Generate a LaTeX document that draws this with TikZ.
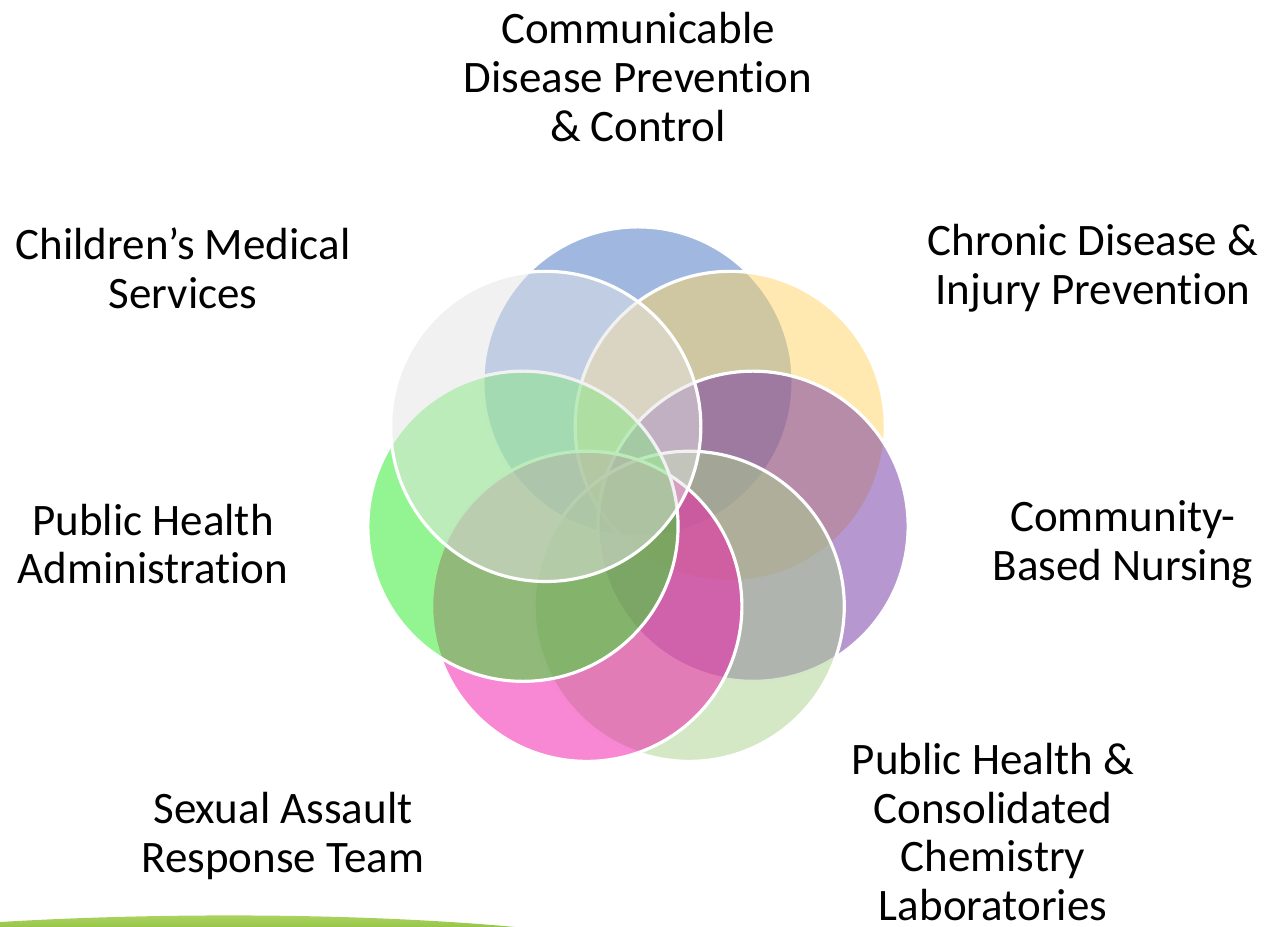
\documentclass[tikz,border=0pt]{standalone}
\usepackage{fontspec}
\setmainfont{Carlito}[Ligatures = {NoCommon, NoRequired, NoContextual}]
\definecolor{cdcblue}{RGB}{65,113,193}
\definecolor{cdipgold}{RGB}{255,212,100}
\definecolor{cbnpurple}{RGB}{112,48,160}
\definecolor{phlgreen}{RGB}{169,209,142}
\definecolor{sartpink}{RGB}{241,17,168}
\definecolor{phagreen}{RGB}{40,235,35}
\definecolor{cmsgray}{RGB}{228,228,228}
\definecolor{grasstop}{RGB}{178,214,104}
\definecolor{grassbottom}{RGB}{150,198,72}

\begin{document}
\begin{tikzpicture}[x = 0.01cm, y = 0.01cm,
    ring/.style = {shape = circle, draw = white, line width = 0.9pt,
        fill opacity = 0.5, minimum size = 3.1cm, inner sep = 0pt},
    topic/.style = {align = center, inner sep = 0pt,
        font = \fontsize{12.8}{13.9}\selectfont}]
    \useasboundingbox (0,0) rectangle (1266,927);

    % strip of grass in the corner
    \shade[top color = grasstop, bottom color = grassbottom]
        (0,0) -- (0,5) .. controls (150,14) and (350,15) .. (515,0) -- cycle;

    % seven rings, clockwise from the top
    \begin{scope}[shift = {(638,427)}]
        \foreach \name/\col [count = \i from 0] in {cdc/cdcblue, cdip/cdipgold,
            cbn/cbnpurple, phl/phlgreen, sart/sartpink, pha/phagreen, cms/cmsgray}
            \node[ring, fill = \col] (\name) at (90-\i*360/7:118) {};
    \end{scope}

    \node[topic] (cdclabel) at (638,850) {Communicable\\Disease Prevention\\\& Control};
    \node[topic] (cdiplabel) at (1093,659) {Chronic Disease \&\\Injury Prevention};
    \node[topic] (cbnlabel) at (1123,383) {Community-\\Based Nursing};
    \node[topic] (phllabel) at (993,95) {Public Health \&\\Consolidated\\Chemistry\\Laboratories};
    \node[topic] (sartlabel) at (283,91) {Sexual Assault\\Response Team};
    \node[topic] (phalabel) at (153,383) {Public Health\\Administration};
    \node[topic] (cmslabel) at (183,659) {Children’s Medical\\Services};
\end{tikzpicture}
\end{document}
